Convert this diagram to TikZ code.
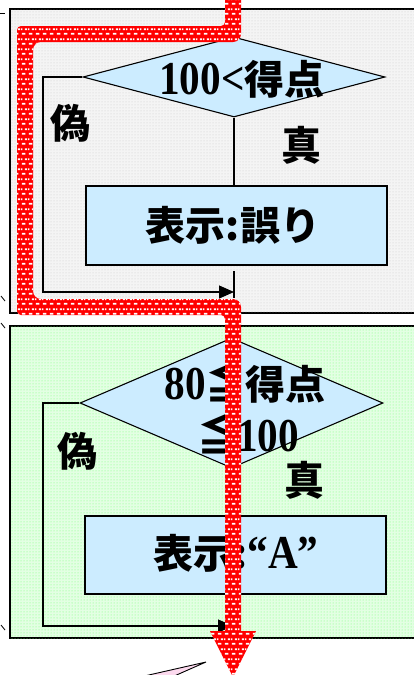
\documentclass[tikz,border=0pt]{standalone}
\usepackage{fontspec}
\usepackage{graphicx}
\setmainfont{Liberation Serif}
\newfontfamily\cjk{Noto Sans CJK JP}
\usetikzlibrary{shapes.geometric,arrows.meta,patterns,patterns.meta}
\definecolor{boxblue}{RGB}{204,236,255}
\newcommand\tallnum[1]{\scalebox{1.03}[1.18]{#1}}
\tikzdeclarepattern{
  name=wdash,
  type=uncolored,
  bottom left={(0pt,0pt)},
  top right={(7pt,10pt)},
  tile size={(7pt,10pt)},
  code={
    \pgfpathrectangle{\pgfpoint{1pt}{1.5pt}}{\pgfpoint{4pt}{1.9pt}}
    \pgfpathrectangle{\pgfpoint{4.5pt}{6.5pt}}{\pgfpoint{2.5pt}{1.9pt}}
    \pgfpathrectangle{\pgfpoint{0pt}{6.5pt}}{\pgfpoint{1.5pt}{1.9pt}}
    \pgfusepath{fill}
  }
}
\tikzset{
  panelgrey/.style={draw=black, line width=1.3pt, fill=gray!9,
    postaction={pattern=dots, pattern color=gray!40}},
  panelgreen/.style={draw=black, line width=1.3pt, fill=green!11,
    postaction={pattern=dots, pattern color=green!55}},
  decision/.style={shape=diamond, draw=black, line width=1.1pt, fill=boxblue,
    inner sep=0pt, minimum width=#1},
  process/.style={rectangle, draw=black, line width=1.3pt, fill=boxblue, inner sep=0pt},
  txt/.style={font=\fontsize{40}{51}\selectfont\bfseries, inner sep=0pt},
  flow/.style={draw=black, line width=1.2pt},
  flowarrow/.style={flow, -{Triangle[length=15pt,width=13pt]}},
  redroute/.style={fill=red, postaction={pattern=wdash, pattern color=white}},
  tick/.style={draw=black, line width=0.8pt},
}
\begin{document}
\begin{tikzpicture}[x=1pt,y=-1pt]
\useasboundingbox (0,0) rectangle (414,675);
% panels
\path[panelgrey] (10,9) rectangle (425,313);
\path[panelgreen] (10,326) rectangle (425,638);
% side ticks
\draw[tick] (0,13) -- (5,13);
\draw[tick] (1,296) -- (5,301);
\draw[tick] (1,323) -- (5,328);
\draw[tick] (1,625) -- (5,630);

% ---- upper panel ----
\node[decision=302pt, minimum height=80pt] (d1) at (234,77) {};
\node[process, minimum width=301pt, minimum height=79pt] (r1) at (236.5,225.5) {};
\coordinate (f1a) at (43,77);
\coordinate (f1b) at (43,292);
\coordinate (j1) at (234,292);
\coordinate (s1a) at (234,271);
\coordinate (s1b) at (234,298);
\draw[flow] (d1.south) -- (d1.south |- r1.north);
\draw[flow] (s1a) -- (s1b);
\draw[flowarrow] (d1.west) -- (f1a) -- (f1b) -- (j1);
\node[txt] (t1) at (242,79) {\tallnum{100<}{\cjk 得点}};
\node[txt] (t2) at (233,225) {\cjk 表示:誤り};
\node[txt] (n1) at (70,123) {\cjk 偽};
\node[txt] (y1) at (301,145) {\cjk 真};

% ---- lower panel ----
\node[decision=303pt, minimum height=130pt] (d2) at (231.5,403) {};
\node[process, minimum width=301pt, minimum height=78pt] (r2) at (235.5,555) {};
\coordinate (f2a) at (43,403);
\coordinate (f2b) at (43,626);
\coordinate (j2) at (233,626);
\draw[flow] (d2.south) -- (d2.south |- r2.north);
\draw[flowarrow] (d2.west) -- (f2a) -- (f2b) -- (j2);
\node[txt] (t3) at (245,382) {\tallnum{80}{\cjk \scalebox{1}[1.15]{≦}得点}};
\node[txt] (t4) at (248,433) {{\cjk \scalebox{1}[1.15]{≦}}\tallnum{100}};
\node[txt] (t5) at (236,553) {{\cjk 表示:}\tallnum{“A”}};
\node[txt] (n2) at (77,451) {\cjk 偽};
\node[txt] (y2) at (304,480) {\cjk 真};

% ---- red route ----
\path[redroute] (225,-3) -- (241,-3) [rounded corners=8pt] -- (241,42) -- (33,42) -- (33,299) -- (241,299)
  [sharp corners] -- (241,631) -- (256,631) -- (233,677) -- (210,631) -- (225,631)
  [rounded corners=4pt] -- (225,315) -- (17,315) -- (17,26) -- (225,26) [sharp corners] -- cycle;

% pink callout tip
\draw[fill=magenta!15, draw=black, line width=0.9pt] (140,677) -- (206,662) -- (172,677);
\end{tikzpicture}
\end{document}
